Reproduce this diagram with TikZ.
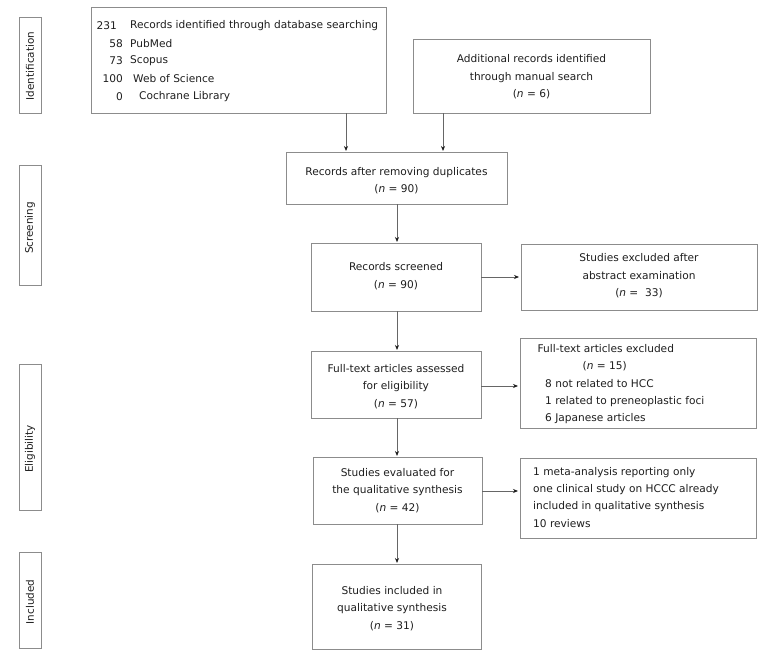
\documentclass[tikz,border=0pt]{standalone}
\usepackage{fontspec}
\setmainfont{DejaVu Sans}
\usetikzlibrary{arrows.meta}
\definecolor{boxgray}{HTML}{8C8C8C}
\definecolor{linegray}{HTML}{666666}
\definecolor{textcol}{HTML}{1E1E1E}
\begin{document}
\begin{tikzpicture}[x=1pt,y=-1pt,
  box/.style={draw=boxgray, line width=0.9pt, rectangle, inner sep=0pt, outer sep=0pt},
  txt/.style={font=\fontsize{10.6}{17.6}\selectfont, text=textcol, inner sep=0pt, align=center},
  ltxt/.style={font=\fontsize{10.6}{17.6}\selectfont, text=textcol, inner sep=0pt, anchor=west},
  rtxt/.style={font=\fontsize{10.6}{17.6}\selectfont, text=textcol, inner sep=0pt, anchor=east},
  side/.style={font=\fontsize{10.4}{11}\selectfont, text=textcol, inner sep=0pt, rotate=90},
  arr/.style={draw=linegray, line width=0.8pt, -{Stealth[length=5pt,width=4pt,color=textcol]}},
  ln/.style={draw=linegray, line width=0.8pt}]
\useasboundingbox (0,0) rectangle (777,661);
\fill[white] (0,0) rectangle (777,661);

% side boxes
\node[box, minimum width=22, minimum height=96] (idl) at (30,65) {};
\node[side] (idt) at (30,66) {Identification};
\node[box, minimum width=22, minimum height=120] (scl) at (30,225) {};
\node[side] (sct) at (30,228) {Screening};
\node[box, minimum width=22, minimum height=146] (ell) at (30,437) {};
\node[side] (elt) at (30,449) {Eligibility};
\node[box, minimum width=22, minimum height=96] (inl) at (30,600) {};
\node[side] (int) at (30,602) {Included};

% database box
\node[box, minimum width=295, minimum height=106] (db) at (238.5,60) {};
\node[rtxt] (d1n) at (117,26) {231};
\node[ltxt] (d1t) at (130,26) {Records identified through database searching};
\node[rtxt] (d2n) at (123,43.5) {58};
\node[ltxt] (d2t) at (130,43.5) {PubMed};
\node[rtxt] (d3n) at (123,61) {73};
\node[ltxt] (d3t) at (130,61) {Scopus};
\node[rtxt] (d4n) at (123,79) {100};
\node[ltxt] (d4t) at (133,79) {Web of Science};
\node[rtxt] (d5n) at (123,96.5) {0};
\node[ltxt] (d5t) at (139,96.5) {Cochrane Library};

% additional box
\node[box, minimum width=237, minimum height=74] (add) at (531.5,76) {};
\node[txt] (addt) at (531.5,77) {Additional records identified\\through manual search\\(\textit{n} = 6)};

% duplicates
\node[box, minimum width=221, minimum height=52] (dup) at (396.5,178) {};
\node[txt] (dupt) at (396.5,180.5) {Records after removing duplicates\\(\textit{n} = 90)};

% screened
\node[box, minimum width=170, minimum height=68] (scr) at (396,277) {};
\node[txt] (scrt) at (396,276) {Records screened\\(\textit{n} = 90)};

% excluded abstract
\node[box, minimum width=236, minimum height=66] (exa) at (639,277) {};
\node[txt] (exat) at (639,276) {Studies excluded after\\abstract examination\\(\textit{n} =\ \ 33)};

% full-text assessed
\node[box, minimum width=170, minimum height=67] (ft) at (396,384.5) {};
\node[txt] (ftt) at (396,386.5) {Full-text articles assessed\\for eligibility\\(\textit{n} = 57)};

% full-text excluded
\node[box, minimum width=236, minimum height=90] (exf) at (638,383) {};
\node[ltxt] (exf1) at (537.5,349) {Full-text articles excluded};
\node[ltxt] (exf2) at (582.5,366.5) {(\textit{n} = 15)};
\node[ltxt] (exf3) at (545,384) {8 not related to HCC};
\node[ltxt] (exf4) at (545,401.5) {1 related to preneoplastic foci};
\node[ltxt] (exf5) at (545,419) {6 Japanese articles};

% studies evaluated
\node[box, minimum width=169, minimum height=67] (ev) at (397.5,490.5) {};
\node[txt] (evt) at (397.5,490.5) {Studies evaluated for\\the qualitative synthesis\\(\textit{n} = 42)};

% meta box
\node[box, minimum width=236, minimum height=80] (meta) at (638,498) {};
\node[ltxt] (m1) at (533,472.5) {1 meta-analysis reporting only};
\node[ltxt] (m2) at (533,490) {one clinical study on HCCC already};
\node[ltxt] (m3) at (533,507) {included in qualitative synthesis};
\node[ltxt] (m4) at (533,524) {10 reviews};

% included
\node[box, minimum width=169, minimum height=85] (inc) at (396.5,606.5) {};
\node[txt] (inct) at (392,608.5) {Studies included in\\qualitative synthesis\\(\textit{n} = 31)};

% connectors
\coordinate (a1) at (346,0);
\coordinate (a2) at (443,0);
\coordinate (vx) at (397,0);
\draw[arr, shorten >=1pt] (db.south -| a1) -- (dup.north -| a1);
\draw[arr, shorten >=1pt] (add.south -| a2) -- (dup.north -| a2);
\draw[arr, shorten >=1pt] (dup.south -| vx) -- (scr.north -| vx);
\draw[arr, shorten >=1pt] (scr.south -| vx) -- (ft.north -| vx);
\draw[arr, shorten >=1pt] (ft.south -| vx) -- (ev.north -| vx);
\draw[arr, shorten >=1pt] (ev.south -| vx) -- (inc.north -| vx);
\draw[arr, shorten >=2pt] (scr.east) -- (exa.west);
\coordinate (h2) at (0,386);
\draw[arr, shorten >=2pt] (ft.east |- h2) -- (exf.west |- h2);
\coordinate (h3) at (0,491);
\draw[arr, shorten >=2pt] (ev.east |- h3) -- (meta.west |- h3);
\end{tikzpicture}
\end{document}
